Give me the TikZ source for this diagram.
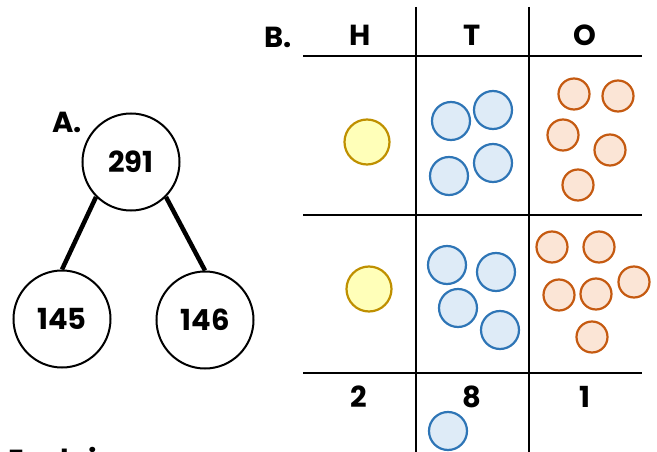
\documentclass[tikz,border=0pt]{standalone}
\usepackage{fontspec}
\setmainfont{Poppins}
\usetikzlibrary{calc}

\definecolor{ten line}{HTML}{2E75B6}
\definecolor{ten fill}{HTML}{DEEBF7}
\definecolor{one line}{HTML}{C55A11}
\definecolor{one fill}{HTML}{FBE5D6}
\definecolor{hundred line}{HTML}{BF9000}
\definecolor{hundred fill}{HTML}{FFFFB9}

\begin{document}
\begin{tikzpicture}[x=1pt, y=-1pt]% number bond and place value chart
            \tikzstyle{label} = [font=\bfseries\fontsize{29}{32}\selectfont]
            \tikzstyle{bubble} = [circle, draw, line width=2, minimum size=97, inner sep=0, label]
            \tikzstyle{branch} = [line width=4.5]
            \tikzstyle{grid} = [line width=2.5]
            \tikzstyle{counter} = [line width=2.2, draw={#1 line}, fill={#1 fill}]
            \useasboundingbox (0, 0) rectangle (657, 452);
            \clip (0, 0) rectangle (657, 452);
            % A: the number bond
            \node[bubble] (top number) at (131, 162) {291};
            \node[bubble] (left number) at (62, 319) {145};
            \node[bubble] (right number) at (205, 320) {146};
            \draw[branch] (top number.south west) -- (left number.north);
            \draw[branch] (top number.south east) -- (right number.north);
            \node[label] (label A) at (67, 122) {A.};
            % B: the place value chart
            \node[label] (label B) at (278, 37) {B.};
            \draw[grid] (416, 7) -- (416, 460);
            \draw[grid] (529, 7) -- (529, 460);
            \draw[grid] (303, 56) -- (642, 56);
            \draw[grid] (303, 215) -- (642, 215);
            \draw[grid] (303, 373) -- (642, 373);
            \node[label] (head H) at (360, 35) {H};
            \node[label] (head T) at (472, 35) {T};
            \node[label] (head O) at (585, 35) {O};
            \node[label] (digit H) at (359, 397) {2};
            \node[label] (digit T) at (472, 397) {8};
            \node[label] (digit O) at (585, 397) {1};
            % first row of counters
            \draw[counter=hundred] (367, 142) circle[radius=22.5];
            \draw[counter=ten] (451, 121) circle[radius=19];
            \draw[counter=ten] (493, 110) circle[radius=19];
            \draw[counter=ten] (449, 176) circle[radius=19];
            \draw[counter=ten] (493, 163) circle[radius=19];
            \draw[counter=one] (574, 94) circle[radius=15.5];
            \draw[counter=one] (618, 96) circle[radius=15.5];
            \draw[counter=one] (563, 135) circle[radius=15.5];
            \draw[counter=one] (610, 150) circle[radius=15.5];
            \draw[counter=one] (578, 185) circle[radius=15.5];
            % second row of counters
            \draw[counter=hundred] (369, 289) circle[radius=22.5];
            \draw[counter=ten] (447, 265) circle[radius=19];
            \draw[counter=ten] (496, 272) circle[radius=19];
            \draw[counter=ten] (458, 308) circle[radius=19];
            \draw[counter=ten] (500, 330) circle[radius=19];
            \draw[counter=ten] (448, 431) circle[radius=19];
            \draw[counter=one] (552, 247) circle[radius=15.5];
            \draw[counter=one] (599, 247) circle[radius=15.5];
            \draw[counter=one] (634, 282) circle[radius=15.5];
            \draw[counter=one] (559, 295) circle[radius=15.5];
            \draw[counter=one] (596, 294) circle[radius=15.5];
            \draw[counter=one] (592, 337) circle[radius=15.5];
            % text running on below
            \node[label, anchor=north west, inner sep=0] (explain) at (8, 447) {Explain};
\end{tikzpicture}
\end{document}
